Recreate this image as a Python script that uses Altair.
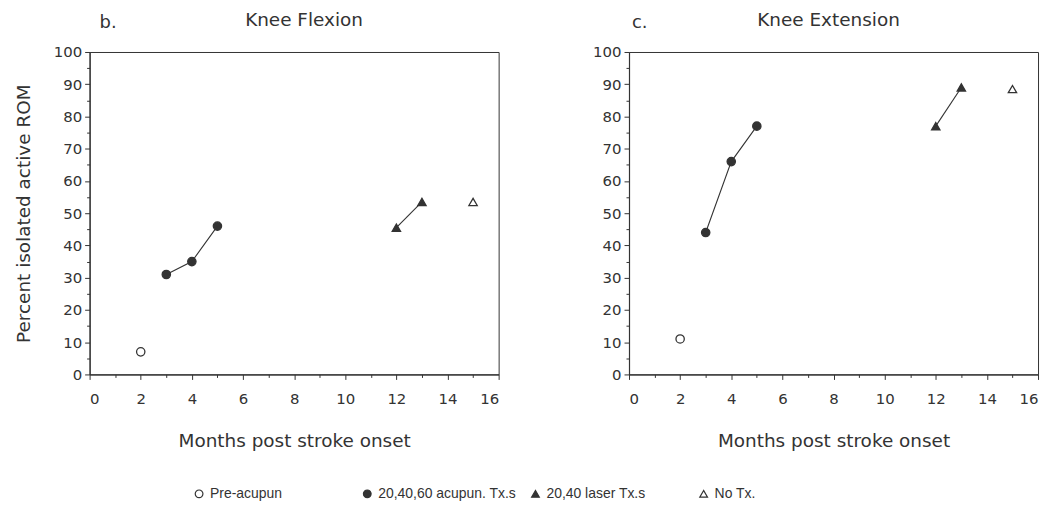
import altair as alt
import pandas as pd

# ---------------- data ----------------
SERIES = ["Pre-acupun", "20,40,60 acupun. Tx.s", "20,40 laser Tx.s", "No Tx."]
months = [2, 3, 4, 5, 12, 13, 15]
point_series = [SERIES[0], SERIES[1], SERIES[1], SERIES[1], SERIES[2], SERIES[2], SERIES[3]]
flexion_rom = [7, 31, 35, 46, 45.5, 53.5, 53.5]
extension_rom = [11, 44, 66, 77, 77, 89, 88.5]

x_ticks = list(range(0, 17))          # labelled every 2 months
y_ticks = list(range(0, 101, 5))      # labelled every 10 %

panel_letters = ["b.", "c."]
panel_titles = ["Knee Flexion", "Knee Extension"]
x_title = "Months post stroke onset"
y_title = "Percent isolated active ROM"

# ---------------- style ----------------
INK = "#333333"
TICK_FONT = "DejaVu Sans"
TEXT_FONT = "DejaVu Sans"
LEG_FONT = "Liberation Sans"
W, H = 411, 324

shape_scale = alt.Scale(domain=SERIES, range=["circle", "circle", "triangle-up", "triangle-up"])
fill_scale = alt.Scale(domain=SERIES, range=["white", INK, INK, "white"])
stroke_scale = alt.Scale(domain=SERIES, range=[INK, INK, INK, INK])

x_tick_size = {"condition": {"test": "datum.value % 2 !== 0", "value": 3}, "value": 5}
y_tick_size = {"condition": {"test": "datum.value % 10 !== 0", "value": 3}, "value": 5}


def panel(values, letter, title, show_ytitle, letter_x, title_dx):
    df = pd.DataFrame({"month": months, "rom": values, "series": point_series})
    xs = alt.Scale(domain=[0, 16], nice=False, zero=False)
    ys = alt.Scale(domain=[0, 100], nice=False, zero=False)

    x_axis = alt.Axis(values=x_ticks, title=x_title, tickSize=x_tick_size,
                      labelExpr="datum.value % 2 === 0 ? datum.label : ''",
                      labelPadding=12, titlePadding=25, grid=False, labelOverlap=False)
    y_kw = dict(values=y_ticks, tickSize=y_tick_size,
                labelExpr="datum.value % 10 === 0 ? datum.label : ''",
                labelPadding=3, grid=False, labelOverlap=False)
    if show_ytitle:
        y_axis = alt.Axis(title=y_title, titlePadding=20, **y_kw)
    else:
        y_axis = alt.Axis(title=None, **y_kw)

    x = alt.X("month:Q", scale=xs, axis=x_axis)
    y = alt.Y("rom:Q", scale=ys, axis=y_axis)

    points = alt.Chart(df).mark_point(size=70, strokeWidth=1.3, opacity=1).encode(
        x=x,
        y=y,
        shape=alt.Shape("series:N", scale=shape_scale, title=None),
        fill=alt.Fill("series:N", scale=fill_scale, title=None),
        stroke=alt.Stroke("series:N", scale=stroke_scale, title=None),
    )

    lines = alt.Chart(df).mark_line(color=INK, strokeWidth=1.1).encode(
        x=x, y=y, detail="series:N"
    ).transform_filter(
        alt.FieldOneOfPredicate(field="series", oneOf=[SERIES[1], SERIES[2]])
    )

    lab = alt.Chart(pd.DataFrame({"t": [letter]})).mark_text(
        align="left", baseline="middle", fontSize=18, font=TEXT_FONT, color=INK
    ).encode(text="t:N", x=alt.value(letter_x), y=alt.value(-29))

    return alt.layer(points, lines, lab).properties(
        width=W, height=H,
        title=alt.TitleParams(title, anchor="middle", fontSize=18.5, font=TEXT_FONT,
                              fontWeight="normal", color=INK, offset=-15, frame="group",
                              dx=title_dx),
    )


left = panel(flexion_rom, panel_letters[0], panel_titles[0], True, 10, 10)
right = panel(extension_rom, panel_letters[1], panel_titles[1], False, 3, -5)

chart = alt.hconcat(left, right, spacing=92).resolve_scale(
    shape="shared", fill="shared", stroke="shared"
).resolve_legend(shape="shared", fill="shared", stroke="shared").configure_view(
    stroke=INK, strokeWidth=1
).configure_axis(
    domainColor=INK, tickColor=INK, labelColor=INK, titleColor=INK,
    labelFont=TICK_FONT, labelFontSize=15, titleFont=TEXT_FONT, titleFontSize=18.5,
    titleFontWeight="normal", domainWidth=1.2, labelOverlap=False, labelSeparation=0,
).configure_legend(
    orient="none", legendX=103, legendY=437, direction="horizontal",
    columns=4, gridAlign="all",
    labelFont=LEG_FONT, labelFontSize=14, labelColor=INK, symbolSize=60,
    symbolStrokeWidth=1.2, columnPadding=12, labelLimit=300,
).properties(background="white",
             padding={"left": 5, "top": 1, "right": 5, "bottom": 5})

chart.save("out.html", embed_options={"renderer": "svg", "actions": False})
